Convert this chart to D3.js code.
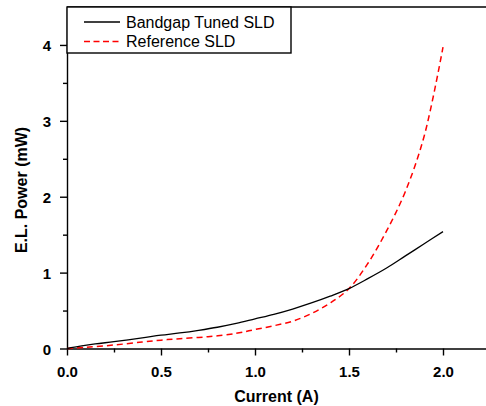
<!DOCTYPE html>
<html>
<head>
<meta charset="utf-8">
<script src="https://cdnjs.cloudflare.com/ajax/libs/d3/7.8.5/d3.min.js"></script>
<style>
  body { margin: 0; background: #fff; }
  svg { display: block; font-family: "Liberation Sans", Arial, sans-serif; }
</style>
</head>
<body>
<svg width="486" height="406"></svg>
<script>
// data
const tunedCurrent = [0, 0.07, 0.15, 0.25, 0.4, 0.5, 0.6, 0.7, 0.8, 0.9, 1.0, 1.1, 1.2, 1.3, 1.4, 1.5, 1.6, 1.7, 1.8, 1.9, 2.0];
const tunedPower   = [0, 0.03, 0.06, 0.09, 0.14, 0.175, 0.205, 0.24, 0.28, 0.33, 0.39, 0.45, 0.52, 0.6, 0.69, 0.79, 0.92, 1.06, 1.22, 1.38, 1.54];
const refCurrent = [0, 0.1, 0.25, 0.4, 0.5, 0.6, 0.75, 0.9, 1.0, 1.1, 1.2, 1.3, 1.4, 1.5, 1.6, 1.7, 1.8, 1.9, 2.0];
const refPower   = [0, 0.015, 0.046, 0.085, 0.11, 0.13, 0.155, 0.2, 0.25, 0.3, 0.36, 0.46, 0.6, 0.79, 1.12, 1.55, 2.07, 2.8, 3.97];
const xTicks = [0, 0.5, 1.0, 1.5, 2.0];
const yTicks = [0, 1, 2, 3, 4];
const seriesNames = ['Bandgap Tuned SLD', 'Reference SLD'];

const svg = d3.select('svg');
const width = +svg.attr('width');
const height = +svg.attr('height');
const margin = { top: 7, right: 0, left: 67, bottom: 57.5 };
const innerWidth = width - margin.left - margin.right;
const innerHeight = height - margin.top - margin.bottom;

const xScale = d3.scaleLinear().domain([0, innerWidth / 188]).range([0, innerWidth]);
const yScale = d3.scaleLinear().domain([0, 4.5]).range([innerHeight, 0]);

const g = svg.append('g').attr('transform', `translate(${margin.left}, ${margin.top})`);

// minor ticks (no labels)
const xMinor = d3.range(0.25, 2.2, 0.5);
const yMinor = d3.range(0.5, 4.5, 1);
g.append('g').attr('transform', `translate(0, ${innerHeight})`)
  .call(d3.axisBottom(xScale).tickValues(xMinor).tickSize(4).tickFormat(''))
  .call(a => { a.select('.domain').remove(); a.selectAll('text').remove(); });
g.append('g')
  .call(d3.axisLeft(yScale).tickValues(yMinor).tickSize(4).tickFormat(''))
  .call(a => { a.select('.domain').remove(); a.selectAll('text').remove(); });

const xAxis = g.append('g').attr('transform', `translate(0, ${innerHeight})`)
  .call(d3.axisBottom(xScale).tickValues(xTicks).tickSize(7).tickSizeOuter(0).tickPadding(8).tickFormat(d3.format('.1f')));
const yAxis = g.append('g')
  .call(d3.axisLeft(yScale).tickValues(yTicks).tickSize(7).tickSizeOuter(0).tickPadding(9).tickFormat(d3.format('d')));

[xAxis, yAxis].forEach(a => {
  a.selectAll('text').attr('font-size', 15).attr('font-weight', 'bold').attr('fill', '#000')
    .attr('font-family', '"Liberation Sans", Arial, sans-serif');
});
xAxis.selectAll('text').attr('dy', null).attr('y', 28.5);
yAxis.selectAll('text').attr('dy', null).attr('y', 5.5);
g.selectAll('.domain, .tick line').attr('stroke', '#000').attr('stroke-width', 1.4);

// top border
g.append('line').attr('x1', 0).attr('x2', innerWidth).attr('y1', 0).attr('y2', 0)
  .attr('stroke', '#000').attr('stroke-width', 1.4);

// curves
const line = d3.line().x(d => xScale(d[0])).y(d => yScale(d[1])).curve(d3.curveCatmullRom);
g.append('path').datum(refCurrent.map((c, i) => [c, refPower[i]]))
  .attr('d', line).attr('fill', 'none')
  .attr('stroke', '#ff0000').attr('stroke-width', 1.5).attr('stroke-dasharray', '6,4');
g.append('path').datum(tunedCurrent.map((c, i) => [c, tunedPower[i]]))
  .attr('d', line).attr('fill', 'none')
  .attr('stroke', '#000').attr('stroke-width', 1.3);

// legend
const legend = g.append('g');
legend.append('rect').attr('x', 0).attr('y', 0).attr('width', 224).attr('height', 46)
  .attr('fill', '#fff').attr('stroke', '#000').attr('stroke-width', 1.4);
const styles = [{ stroke: '#000', dash: null }, { stroke: '#ff0000', dash: '6,3.5' }];
seriesNames.forEach((name, i) => {
  const y = 15 + i * 19.5;
  legend.append('line').attr('x1', 17).attr('x2', 53).attr('y1', y).attr('y2', y)
    .attr('stroke', styles[i].stroke).attr('stroke-width', 1.4).attr('stroke-dasharray', styles[i].dash);
  legend.append('text').attr('x', 59).attr('y', y + 5.8)
    .attr('font-size', 16).text(name);
});

// axis titles
svg.append('text').attr('x', margin.left + innerWidth / 2).attr('y', 401.5)
  .attr('text-anchor', 'middle').attr('font-size', 16).attr('font-weight', 'bold')
  .text('Current (A)');
svg.append('text').attr('transform', 'translate(27, 190) rotate(-90)')
  .attr('text-anchor', 'middle').attr('font-size', 16).attr('font-weight', 'bold')
  .text('E.L. Power (mW)');
</script>
</body>
</html>
